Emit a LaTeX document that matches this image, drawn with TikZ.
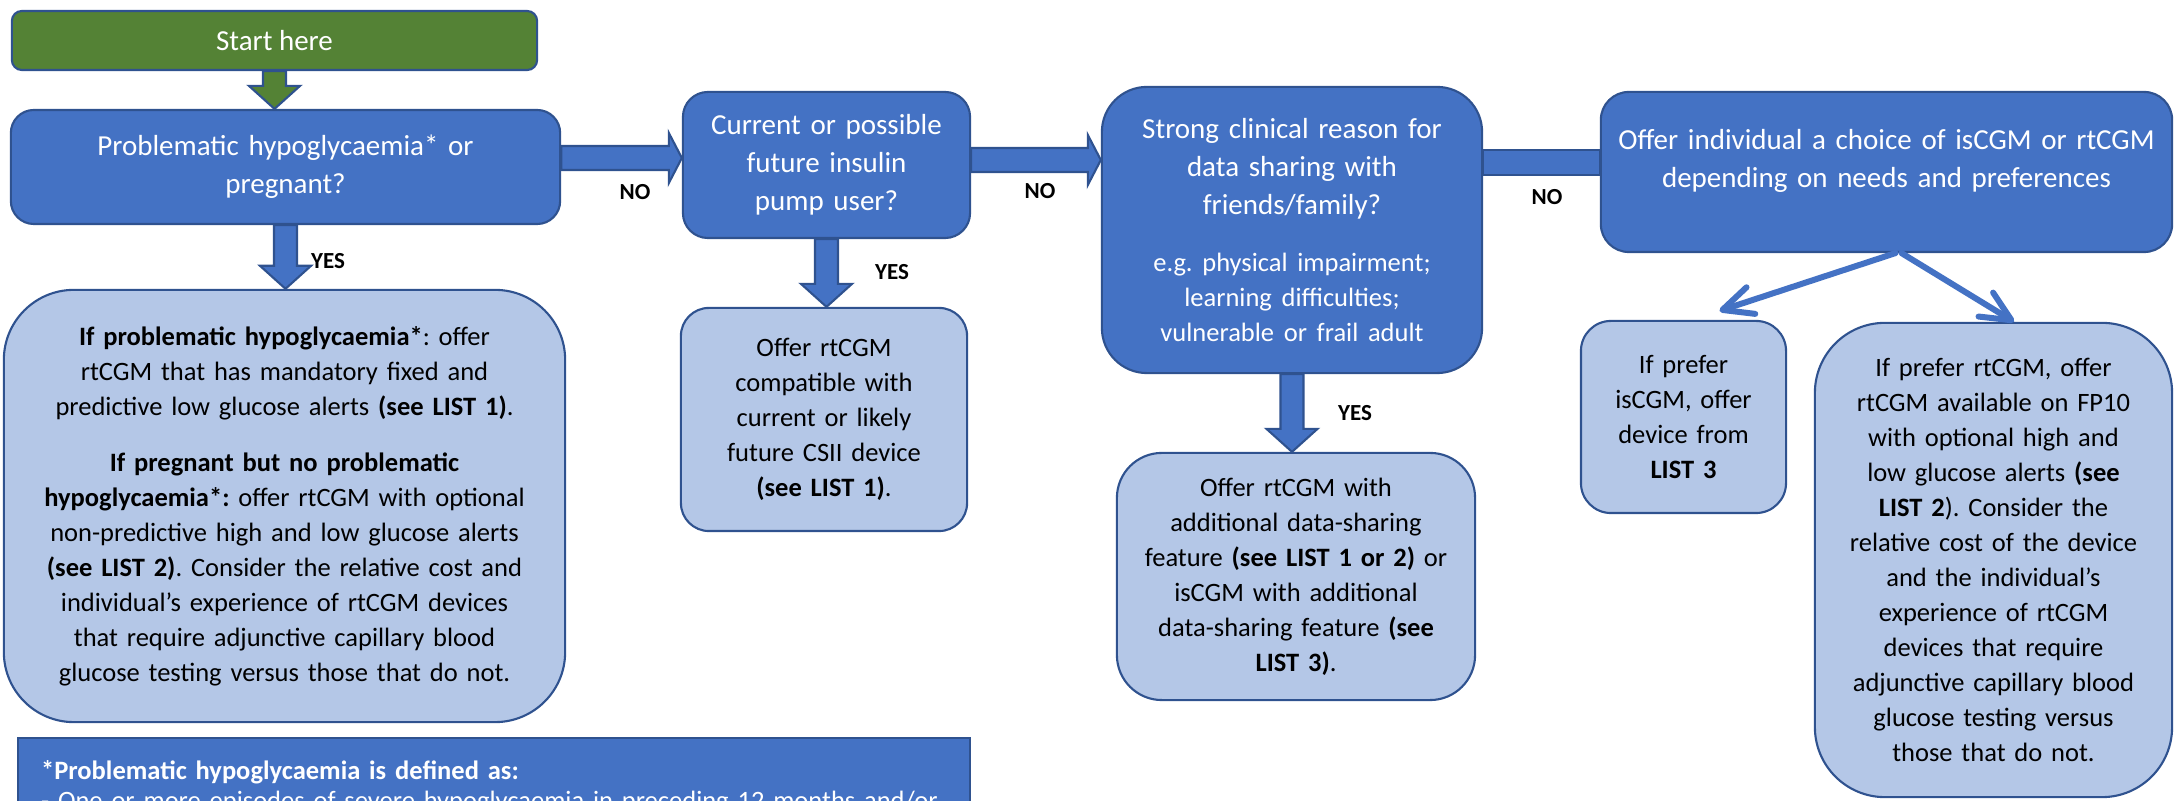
\documentclass[tikz,border=0pt]{standalone}
\usepackage{fontspec}
\setmainfont{Carlito}
\usetikzlibrary{calc,arrows.meta}
\frenchspacing

\definecolor{qblue}{HTML}{4472C4}
\definecolor{edgeblue}{HTML}{2F528F}
\definecolor{ablue}{HTML}{B4C7E7}
\definecolor{startgreen}{HTML}{548235}

\newcommand{\questionfont}{\fontsize{8.25}{10.81}\selectfont}
\newcommand{\answerfont}{\fontsize{7.54}{9.96}\selectfont}

\begin{document}
\begin{tikzpicture}[
   x=0.01cm, y=-0.01cm,
   box/.style={draw=edgeblue, line width=0.6pt, inner sep=0.05cm, align=center},
   question/.style={box, fill=qblue, text=white, font=\questionfont},
   answer/.style={box, fill=ablue, text=black, font=\answerfont},
   yesno/.style={font=\fontsize{6.54}{8}\selectfont\bfseries},
   block/.style={draw=edgeblue, line width=0.6pt, fill=qblue},
   arrowdown/.style={to path={let \p1=(\tikztostart), \p2=(\tikztotarget) in
      (\x1-0.115cm,\y1) -- (\x1-0.115cm,\y2+0.23cm) -- (\x1-0.255cm,\y2+0.23cm) -- (\x1,\y2)
      -- (\x1+0.255cm,\y2+0.23cm) -- (\x1+0.115cm,\y2+0.23cm) -- (\x1+0.115cm,\y1) -- cycle}},
   arrowright/.style={to path={let \p1=(\tikztostart), \p2=(\tikztotarget) in
      (\x1,\y1+0.12cm) -- (\x2-0.13cm,\y1+0.12cm) -- (\x2-0.13cm,\y1+0.25cm) -- (\x2,\y1)
      -- (\x2-0.13cm,\y1-0.25cm) -- (\x2-0.13cm,\y1-0.12cm) -- (\x1,\y1-0.12cm) -- cycle}},
   joinbar/.style={to path={let \p1=(\tikztostart), \p2=(\tikztotarget) in
      (\x1,\y1+0.125cm) rectangle (\x2,\y1-0.125cm)}},
   choice/.style={draw=qblue, line width=0.06cm, line cap=round,
      -{Straight Barb[length=0.3cm, width=0.28cm, round]}}
]
\clip (0,0) rectangle (2174,801);

% Start
\node[box, fill=startgreen, text=white, font=\questionfont, rounded corners=0.1cm,
   minimum width=5.25cm, minimum height=0.59cm] (start) at (274.5,40.5) {Start here};

% Questions
\node[question, rounded corners=0.23cm, minimum width=5.49cm, minimum height=1.14cm,
   text width=5.37cm] (q1) at (285.5,167)
   {Problematic hypoglycaemia* or\\ pregnant?};
\node[question, rounded corners=0.25cm, minimum width=2.87cm, minimum height=1.46cm,
   text width=2.75cm] (q2) at (826.5,165)
   {Current or possible\\ future insulin\\ pump user?};
\node[question, rounded corners=0.45cm, minimum width=3.8cm, minimum height=2.86cm,
   text width=3.68cm] (q3) at (1292,230)
   {Strong clinical reason for\\ data sharing with\\ friends/family?\par
    \vspace{0.22cm}
    {\answerfont e.g. physical impairment;\\ learning difficulties;\\ vulnerable or frail adult\par}};
\node[question, rounded corners=0.28cm, minimum width=5.71cm, minimum height=1.6cm,
   text width=5.59cm] (q4) at (1886.5,172)
   {Offer individual a choice of isCGM or rtCGM\\ depending on needs and preferences\par\kern0.22cm};

% Answers
\node[answer, rounded corners=0.7cm, minimum width=5.61cm, minimum height=4.32cm,
   text width=5.49cm] (a1) at (284.5,506)
   {\textbf{If problematic hypoglycaemia*}: offer\\ rtCGM that has mandatory fixed and\\
    predictive low glucose alerts \textbf{(see LIST 1)}.\\[0.21cm]
    \textbf{If pregnant but no problematic}\\ \textbf{hypoglycaemia*:} offer rtCGM with optional\\
    non-predictive high and low glucose alerts\\ \textbf{(see LIST 2)}. Consider the relative cost and\\
    individual’s experience of rtCGM devices\\ that require adjunctive capillary blood\\
    glucose testing versus those that do not.};
\node[answer, rounded corners=0.28cm, minimum width=2.86cm, minimum height=2.23cm,
   text width=2.74cm] (a2) at (824,419.5)
   {Offer rtCGM\\ compatible with\\ current or likely\\ future CSII device\\ \textbf{(see LIST 1)}.};
\node[answer, rounded corners=0.45cm, minimum width=3.58cm, minimum height=2.47cm,
   text width=3.46cm] (a3) at (1296,576.5)
   {Offer rtCGM with\\ additional data-sharing\\ feature \textbf{(see LIST 1 or 2)} or\\
    isCGM with additional\\ data-sharing feature \textbf{(see}\\ \textbf{LIST 3)}.};
\node[answer, rounded corners=0.3cm, minimum width=2.05cm, minimum height=1.92cm,
   text width=1.93cm] (a4) at (1683.5,417)
   {If prefer\\ isCGM, offer\\ device from\\ \textbf{LIST 3}};
\node[answer, rounded corners=0.7cm, minimum width=3.57cm, minimum height=4.74cm,
   text width=3.45cm] (a5) at (1993.5,560)
   {If prefer rtCGM, offer\\ rtCGM available on FP10\\ with optional high and\\
    low glucose alerts \textbf{(see}\\ \textbf{LIST 2}). Consider the\\ relative cost of the device\\
    and the individual’s\\ experience of rtCGM\\ devices that require\\
    adjunctive capillary blood\\ glucose testing versus\\ those that do not.};

% Footnote
\node[box, fill=qblue, text=white, anchor=north west, align=left, inner xsep=0.23cm,
   inner ysep=0.225cm, text width=9.05cm, minimum width=9.51cm,
   font=\fontsize{7.54}{8.54}\selectfont] (note) at (17,737)
   {\textbf{*Problematic hypoglycaemia is defined as:}\\
    - One or more episodes of severe hypoglycaemia in preceding 12 months and/or};

% Block arrows
\draw[block, fill=startgreen] (start.south) to[arrowdown] (q1.north);
\draw[block] (q1.south) to[arrowdown] (a1.north);
\draw[block] (q2.south) to[arrowdown] (a2.north);
\draw[block] (q3.south) to[arrowdown] (a3.north);
\draw[block] ([yshift=0.09cm]q1.east) to[arrowright] (q2.west);
\draw[block] ([yshift=0.05cm]q2.east) to[arrowright] (q3.west);
\draw[block] ([yshift=0.675cm]q3.east) to[joinbar] (q4.west);

% Choice arrows
\draw[choice] ([xshift=0.09cm]q4.south) -- ([xshift=0.36cm,yshift=0.09cm]a4.north);
\draw[choice] ([xshift=0.15cm]q4.south) -- ([xshift=0.205cm]a5.north);

% Labels
\node[yesno] (yes1) at (328,261) {YES};
\node[yesno] (no1) at (635,192) {NO};
\node[yesno] (yes2) at (892,272) {YES};
\node[yesno] (no2) at (1040,191) {NO};
\node[yesno] (yes3) at (1355,413) {YES};
\node[yesno] (no3) at (1547,197) {NO};

\end{tikzpicture}
\end{document}
